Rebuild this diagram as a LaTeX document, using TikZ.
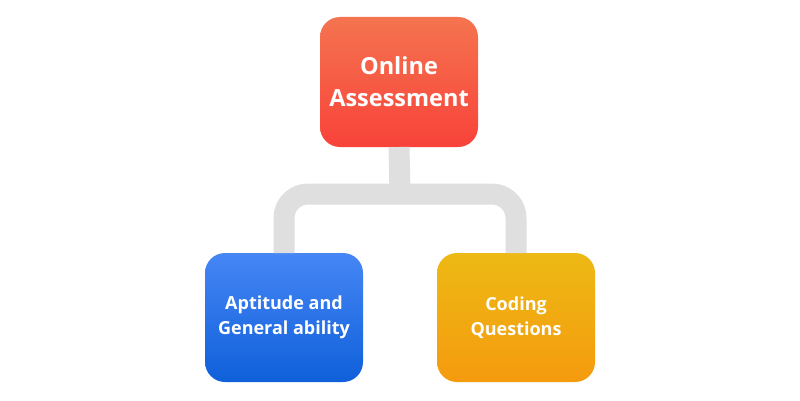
\documentclass[tikz,border=0pt]{standalone}
\usepackage{fontspec}
\setmainfont{Open Sans}
\definecolor{redtop}{HTML}{F5744F}
\definecolor{redbot}{HTML}{F8423A}
\definecolor{bluetop}{HTML}{4686F5}
\definecolor{bluebot}{HTML}{0F60DA}
\definecolor{yeltop}{HTML}{EDB914}
\definecolor{yelbot}{HTML}{F59B0E}
\definecolor{linkgray}{HTML}{DFDFDF}
\begin{document}
\begin{tikzpicture}[x = 1pt, y = 1pt, line join = round,
	box/.style = {rectangle, rounded corners = 20pt, anchor = center, outer sep = 0pt, minimum width = 158pt, minimum height = 130pt, text = white, align = center, font = \bfseries},
	link/.style = {draw = linkgray, line width = 21pt, line cap = butt}]
	%		\draw[gray!50,xstep = 100, ystep = 100] (0,0) grid (800,400);
	\useasboundingbox[fill = white] (0,0) rectangle (800,400);
	
	\coordinate (bar) at (400,206);
	\node[box, top color = redtop, bottom color = redbot, font = \fontsize{23.5}{32}\selectfont\bfseries] (assess) at (399,318) {Online\\Assessment};
	\node[box, top color = bluetop, bottom color = bluebot, minimum height = 129pt, font = \fontsize{18}{25}\selectfont\bfseries] (aptitude) at (284,82.5) {Aptitude and\\General ability};
	\node[box, top color = yeltop, bottom color = yelbot, minimum height = 129pt, font = \fontsize{18}{25}\selectfont\bfseries] (coding) at (516,82.5) {Coding\\Questions};
	
	\draw[link] (assess.south) -- (bar);
	\draw[link, rounded corners = 24pt] (aptitude.north) -- (aptitude.north |- bar) -- (coding.north |- bar) -- (coding.north);
\end{tikzpicture}
\end{document}
